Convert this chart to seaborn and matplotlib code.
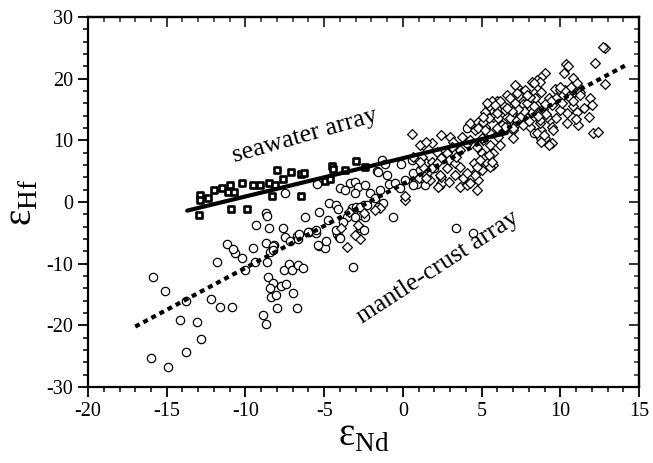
import matplotlib
matplotlib.use("Agg")
from matplotlib import pyplot as plt
from matplotlib.ticker import MultipleLocator
import seaborn as sns

# seawater samples (squares)
sq_x = [-12.9, -12.9, -12.95, -12.4, -12.0, -11.5, -11.1, -11.0, -10.7, -10.2, -10.9, -9.9,
        -9.55, -9.05, -8.5, -8.1, -8.0, -7.6, -7.1, -6.45, -6.25, -8.3, -6.5, -4.95, -4.65,
        -4.5, -4.45, -3.7, -3.0, -2.4]
sq_y = [1.2, 0.3, -2.1, 0.7, 1.9, 2.2, 1.7, 2.8, 1.7, 3.05, -1.1, -1.2,
        2.7, 2.7, 3.05, 2.8, 5.25, 3.8, 4.9, 4.5, 4.7, 1.0, 1.0, 3.4, 3.7,
        5.9, 5.3, 5.2, 6.6, 5.7]

# circles
ci_x = [-15.85, -15.1, -13.8, -14.15, -13.1, -12.8, -13.8, -16.0, -14.95, -12.2, -11.6, -10.85,
        -11.8, -10.0, -10.65, -10.25, -9.4, -11.2, -10.8, -9.5, -9.3, -8.7, -8.65, -8.5,
        -8.7, -8.45, -8.6, -8.55, -8.25, -8.45, -8.35, -8.05, -8.9, -8.7, -8.0, -8.2,
        -7.6, -7.5, -7.15, -6.75, -6.65, -7.55, -7.25, -7.05, -6.65, -6.35, -7.75, -7.4,
        -7.0, -6.75, -6.2, -5.95, -5.5, -5.3, -5.35, -4.95, -4.9, -4.7, -4.25, -4.15,
        -4.2, -4.05, -3.2, -3.25, -2.95, -2.7, -2.5, -3.05, -3.55, -7.5, -5.45, -6.6,
        -6.0, -5.5, -5.4, -8.25, -8.25, -4.25, -4.0, -3.35, -4.0, -3.65, -3.05, -2.85,
        -2.4, -3.05, -2.7, -2.4, -3.8, -4.75, -2.7, -2.45, 3.4, 4.45, -0.6, -0.1,
        -1.35, -1.15, -1.65, -1.55, -1.0, -0.9, -0.5, 0.15, 0.65, 0.9, 1.4, 2.35,
        -2.1, -1.45, -2.3, -1.55, -1.25, -1.75, -0.2, 0.65, 1.1, 1.95, 0.55, 0.9,
        4.05, 4.05, 8.3, 8.7, 2.5]
ci_y = [-12.1, -14.4, -16.1, -19.1, -19.5, -22.2, -24.3, -25.3, -26.7, -15.75, -17.05, -17.1,
        -9.7, -11.0, -8.3, -9.1, -9.65, -6.85, -7.65, -7.4, -3.7, -1.8, -2.25, -4.25,
        -6.7, -8.05, -9.7, -12.2, -13.15, -14.0, -15.4, -15.15, -18.3, -19.75, -17.2, -6.95,
        -4.15, -5.6, -6.25, -5.5, -6.0, -11.0, -10.0, -11.0, -10.2, -10.7, -13.6, -13.3,
        -14.8, -17.2, -2.5, -4.9, -5.05, -1.7, -7.1, -7.5, -6.25, -0.2, -0.5, -1.15,
        -5.2, -5.7, -10.6, -1.0, -0.75, -2.1, -0.5, -2.4, -2.4, 1.45, 2.9, -5.2,
        -4.8, -4.5, -7.0, -7.1, -7.75, -4.5, -5.9, 3.05, 2.2, 1.95, 3.3, 2.5,
        2.75, 1.45, -0.75, -2.4, -3.2, -2.9, -4.25, -4.5, -4.25, -5.05, -2.4, 6.2,
        6.8, 6.1, 5.1, 4.8, 4.4, 2.9, 3.05, 3.6, 4.65, 2.9, 2.75, 2.75,
        1.45, 1.95, -0.5, -0.75, -0.2, 0.6, 2.2, 2.75, 5.2, 5.5, 6.8, 7.2,
        9.5, 12.0, 11.25, 10.6, 3.3]

# diamonds
di_x = [-3.4, -3.9, -3.55, -2.85, -2.7, -3.05, -1.45, -2.5, -1.75, 0.15, 0.15, 1.0, 1.75,
        0.55, 1.3, 1.85, 2.45, 3.0, 3.2, 3.65, 3.75, 4.25, 4.8, 4.6, 5.2, 4.25, 4.7,
        5.1, 5.0, 4.5, 4.6, 5.1, 4.8, 4.7, 4.15, 3.65, 3.85, 3.3, 2.8, 2.9, 2.45,
        2.25, 1.65, 1.5, 1.2, 1.3, 1.85, 2.15, 2.8, 2.9, 3.3, 3.1, 2.45, 1.1, 1.5, 4.05,
        12.85, 12.7, 12.2, 10.35, 10.5, 10.25, 12.85, 9.05, 8.8, 8.5, 8.2, 10.8, 11.05,
        10.85, 11.25, 11.9, 11.8, 11.15, 12.1, 12.4, 9.65, 10.0, 10.2, 10.6, 10.8, 10.4,
        10.0, 9.45, 9.35, 9.45, 9.05, 9.5, 8.8, 8.5, 8.7, 8.1, 7.25, 7.75, 8.3, 7.85,
        7.45, 6.9, 6.6, 6.4, 6.05, 5.95, 5.65, 5.45, 5.35, 5.75, 6.05, 6.6, 7.0, 7.45,
        7.85, 7.25, 6.7, 6.3, 6.15, 7.0, 5.1, 4.8,
        10.4, 9.55, 8.95, 8.8, 8.7, 9.15, 9.75, 10.1, 10.8, 11.25, 11.05, 9.25, 9.75,
        10.3, 10.7, 11.05, 10.0, 8.7, 8.3, 7.15, 7.25, 6.8, 6.15, 5.35, 5.85, 5.2, 5.45,
        5.1, 5.95, 6.5, 7.0, 7.65, 8.1, 7.45, 8.0, 8.5, 6.8, 7.25, 7.85, 6.5, 7.0, 7.65,
        5.95, 5.55, 6.05, 5.2, 5.0, 5.55, 6.15, 5.75, 5.2, 5.35, 5.75, 7.0, 9.25, 5.55,
        5.0, 5.45, 5.65, 4.9, 4.7, 4.6, 4.25, 4.05, 3.65, 3.4, 2.15, 1.85, 2.35, 1.5,
        0.65, 1.1, 11.5, 12.0, 11.0,
        7.6, 7.9, 8.2, 8.0, 7.5, 8.4, 8.9, 9.1, 8.3, 7.7, 8.6, 9.4, 7.3, 6.9, 8.1, 8.8,
        9.0, 7.9, 7.1, 6.6]
di_y = [-1.55, -4.25, -7.3, -3.7, -6.0, -5.3, -1.0, -1.8, -1.3, 0.35, 0.9, 3.85, 3.6,
        11.0, 9.25, 9.5, 10.9, 10.6, 9.8, 8.45, 10.6, 12.8, 13.0, 11.7, 12.2, 10.0, 9.0,
        10.1, 7.9, 6.3, 4.65, 5.7, 3.6, 1.95, 3.05, 2.5, 3.85, 4.4, 5.5, 3.3, 4.1,
        2.5, 4.95, 6.3, 7.35, 5.7, 6.55, 8.15, 7.9, 6.8, 6.3, 9.0, 7.1, 9.25, 9.8, 2.8,
        24.9, 25.1, 22.6, 22.4, 22.0, 20.9, 19.1, 20.9, 20.3, 19.8, 19.5, 20.1, 19.0,
        17.9, 17.9, 16.8, 13.8, 12.5, 11.15, 11.4, 18.4, 18.2, 17.4, 16.8, 15.5, 14.4,
        14.9, 15.7, 13.3, 12.2, 10.3, 9.5, 11.7, 11.15, 12.8, 12.2, 18.7, 18.2, 17.6, 16.8,
        15.7, 16.5, 17.4, 15.5, 14.9, 16.3, 16.3, 15.5, 14.1, 13.8, 13.6, 13.8, 14.4, 14.4,
        14.9, 12.8, 12.2, 12.5, 11.4, 11.7, 13.0, 12.0,
        12.8, 11.7, 10.9, 9.8, 13.3, 13.8, 13.6, 16.0, 16.3, 17.4, 14.6, 16.8, 16.8,
        18.2, 18.7, 19.3, 18.7, 19.5, 19.3, 19.0, 17.6, 16.8, 16.3, 16.0, 15.7, 14.6, 13.6,
        13.8, 14.4, 14.9, 15.5, 16.3, 16.5, 14.9, 15.2, 15.7, 13.6, 13.3, 13.8, 12.2, 12.0, 12.5,
        12.0, 11.15, 10.6, 11.7, 10.3, 9.25, 9.25, 7.9, 7.35, 6.3, 6.0, 10.3, 9.25, 5.7,
        5.2, 7.6, 6.55, 6.8, 5.7, 4.4, 3.05, 4.65, 5.7, 7.35, 6.3, 5.5, 4.4, 3.85,
        7.35, 6.55, 15.2, 15.8, 13.5,
        15.9, 16.1, 14.6, 13.1, 13.9, 16.9, 15.1, 14.3, 15.6, 14.7, 14.0, 16.4, 15.0, 14.8,
        17.0, 17.9, 15.9, 17.4, 16.1, 15.2]

# array lines (end points)
sw_x = [-13.7, 6.6]
sw_y = [-1.4, 11.2]
mc_x = [-17.0, 14.1]
mc_y = [-20.2, 22.1]

sns.set_style("ticks")
plt.rcParams['font.family'] = ['Liberation Serif', 'DejaVu Serif']
plt.rcParams['mathtext.fontset'] = 'custom'
plt.rcParams['mathtext.rm'] = 'Liberation Serif'
plt.rcParams['text.color'] = 'black'
plt.rcParams['axes.labelcolor'] = 'black'
plt.rcParams['axes.unicode_minus'] = False

fig = plt.figure(figsize=(6.53, 4.63), dpi=100)
ax = fig.add_axes([0.1348, 0.1641, 0.8438, 0.7992])

sns.scatterplot(x=ci_x, y=ci_y, marker='o', s=36, color='white', edgecolor='black',
                linewidth=0.9, ax=ax, zorder=2)
sns.scatterplot(x=di_x, y=di_y, marker='D', s=25, color='white', edgecolor='black',
                linewidth=0.9, ax=ax, zorder=2)
sns.scatterplot(x=sq_x, y=sq_y, marker='s', s=17, color='white', edgecolor='black',
                linewidth=1.9, ax=ax, zorder=2)

sns.lineplot(x=sw_x, y=sw_y, color='black', linewidth=3, ax=ax, zorder=3)
sns.lineplot(x=mc_x, y=mc_y, color='black', linewidth=3, linestyle=(0, (1.2, 1.0)), ax=ax, zorder=3)

ax.text(-6.2, 10.8, 'seawater array', fontsize=18.5, rotation=16, ha='center', va='center',
        color='black')
ax.text(2.2, -10.6, 'mantle-crust array', fontsize=18.5, rotation=33, ha='center', va='center',
        color='black')

ax.set_xlim(-20, 15)
ax.set_ylim(-30, 30)
ax.xaxis.set_major_locator(MultipleLocator(5))
ax.xaxis.set_minor_locator(MultipleLocator(1))
ax.yaxis.set_major_locator(MultipleLocator(10))
ax.yaxis.set_minor_locator(MultipleLocator(2))
ax.tick_params(which='major', direction='out', length=7, width=1.3, labelsize=14.5, colors='black')
ax.tick_params(which='minor', direction='out', length=3.5, width=1.1, colors='black')

# mirrored ticks pointing inward on top and right
top = ax.secondary_xaxis('top')
top.xaxis.set_major_locator(MultipleLocator(5))
top.xaxis.set_minor_locator(MultipleLocator(1))
top.tick_params(which='major', direction='in', length=7, width=1.3, labeltop=False)
top.tick_params(which='minor', direction='in', length=3.5, width=1.1)
right = ax.secondary_yaxis('right')
right.yaxis.set_major_locator(MultipleLocator(10))
right.yaxis.set_minor_locator(MultipleLocator(2))
right.tick_params(which='major', direction='in', length=7, width=1.3, labelright=False)
right.tick_params(which='minor', direction='in', length=3.5, width=1.1)

for sp in ax.spines.values():
    sp.set_linewidth(1.6)
    sp.set_color('black')
    sp.set_visible(True)
top.spines['top'].set_linewidth(1.6)
right.spines['right'].set_linewidth(1.6)

ax.set_xlabel('ε$_{\\mathrm{Nd}}$', fontsize=28, labelpad=-2)
ax.set_ylabel('ε$_{\\mathrm{Hf}}$', fontsize=28, labelpad=4)

fig.savefig('out.png', dpi=100)
